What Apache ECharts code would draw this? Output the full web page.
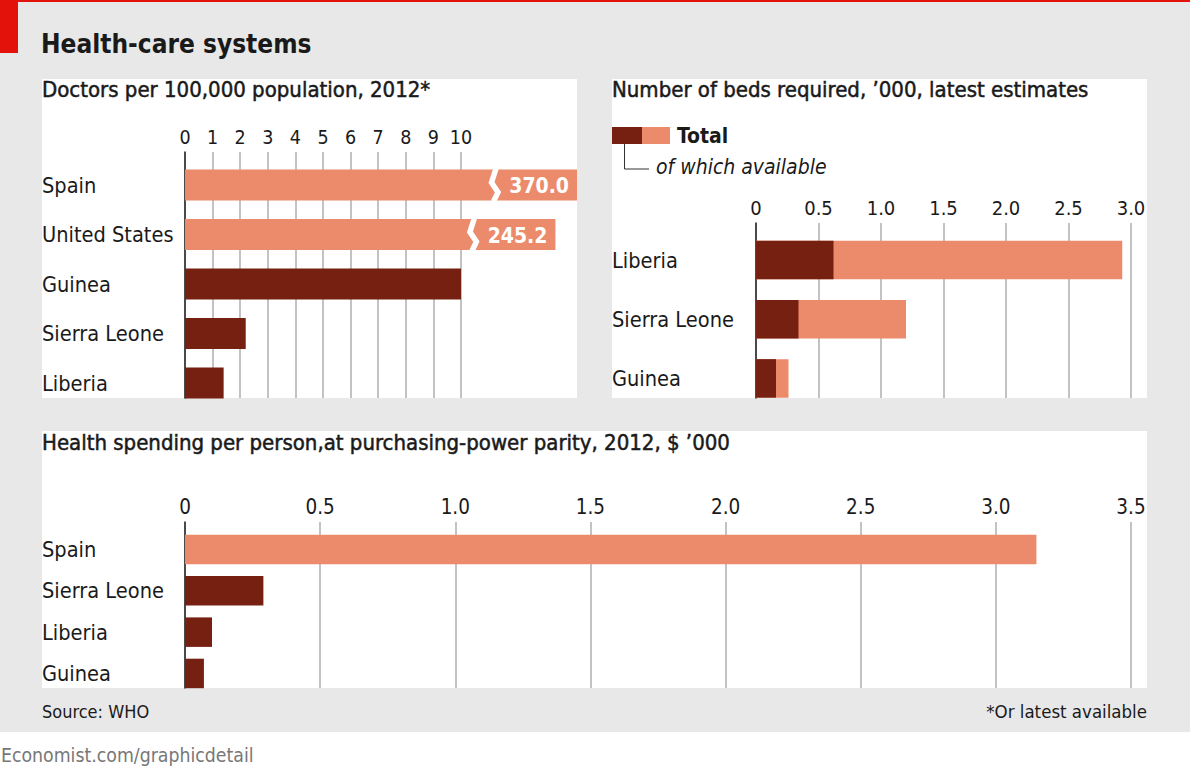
<!DOCTYPE html>
<html>
<head>
<meta charset="utf-8">
<script src="https://cdn.jsdelivr.net/npm/echarts@6/dist/echarts.min.js"></script>
<style>
html,body{margin:0;padding:0;background:#fff;}
#c{width:1190px;height:768px;}
</style>
</head>
<body>
<div id="c"></div>
<script>
// ---- data ----
const doctorCountries = ['Spain', 'United States', 'Guinea', 'Sierra Leone', 'Liberia'];
const doctorsPer100k = [370.0, 245.2, 10.0, 2.2, 1.4];
const doctorTicks = [0, 1, 2, 3, 4, 5, 6, 7, 8, 9, 10];

const bedCountries = ['Liberia', 'Sierra Leone', 'Guinea'];
const bedsTotal = [2.93, 1.20, 0.26];
const bedsAvailable = [0.62, 0.34, 0.16];
const bedTicks = [0, 0.5, 1.0, 1.5, 2.0, 2.5, 3.0];

const spendCountries = ['Spain', 'Sierra Leone', 'Liberia', 'Guinea'];
const spendPerPerson = [3.15, 0.29, 0.10, 0.07];
const spendTicks = [0, 0.5, 1.0, 1.5, 2.0, 2.5, 3.0, 3.5];

const ebolaCountries = ['Guinea', 'Sierra Leone', 'Liberia'];

// ---- styles ----
const FONT = '"DejaVu Sans Condensed", "Liberation Sans Narrow", "DejaVu Sans", sans-serif';
const LIGHT = '#ec8b6b';
const DARK = '#762011';
const TEXT = '#1a1a1a';
const GRID = '#c3c3c3';
const BG = '#e8e8e8';

const colorFor = c => ebolaCountries.indexOf(c) >= 0 ? DARK : LIGHT;
const tickFmt = v => v === 0 ? '0' : v.toFixed(1);

const chart = echarts.init(document.getElementById('c'), null, {renderer: 'svg'});

function valueXAxis(grid, ticks, fmt, showLabels, size) {
  return {
    gridIndex: grid, type: 'value', position: 'top',
    min: ticks[0], max: ticks[ticks.length - 1], interval: ticks[1] - ticks[0],
    show: showLabels,
    axisLine: {show: false}, axisTick: {show: false},
    axisLabel: {show: showLabels, margin: 5, fontSize: size || 20, fontFamily: FONT, color: TEXT, formatter: fmt},
    splitLine: {show: showLabels, lineStyle: {color: GRID, width: 2}}
  };
}
function zeroYAxis(grid) {
  return {
    gridIndex: grid, type: 'value', min: 0, max: 1,
    axisLine: {show: true, lineStyle: {color: '#222', width: 1.5}},
    axisTick: {show: false}, axisLabel: {show: false}, splitLine: {show: false}
  };
}
function catYAxis(grid, cats, margin) {
  return {
    gridIndex: grid, type: 'category', data: cats, inverse: true,
    axisLine: {show: false}, axisTick: {show: false}, splitLine: {show: false},
    axisLabel: {align: 'left', margin: margin, fontSize: 21.6, fontFamily: FONT, color: TEXT}
  };
}

function txt(text, x, y, size, opts) {
  opts = opts || {};
  const style = {
    text: text, fontSize: size, fontFamily: FONT,
    fontWeight: opts.weight || 'normal', fontStyle: opts.style || 'normal',
    fill: opts.color || TEXT, align: opts.align || 'left', verticalAlign: 'middle'
  };
  if (opts.stroke) { style.stroke = opts.color || TEXT; style.lineWidth = opts.stroke; }
  return {type: 'text', z: 20, x: x, y: y, style: style};
}

const doctorMax = doctorTicks[doctorTicks.length - 1];
const brokenMax = Math.max.apply(null, doctorsPer100k);

const option = {
  animation: false,
  backgroundColor: '#fff',
  grid: [
    {left: 185, top: 152, width: 276, height: 246},
    {left: 185, top: 160.25, width: 276, height: 247.5},
    {left: 756, top: 223, width: 375, height: 175},
    {left: 756, top: 230.4, width: 375, height: 177.6},
    {left: 185, top: 522, width: 946, height: 166},
    {left: 185, top: 528.9, width: 946, height: 165.2}
  ],
  xAxis: [
    valueXAxis(0, doctorTicks, v => String(v), true, 19.5),
    valueXAxis(1, doctorTicks, null, false),
    valueXAxis(2, bedTicks, tickFmt, true, 20),
    valueXAxis(3, bedTicks, null, false),
    valueXAxis(4, spendTicks, tickFmt, true, 20.5),
    valueXAxis(5, spendTicks, null, false)
  ],
  yAxis: [
    zeroYAxis(0),
    catYAxis(1, doctorCountries, 143),
    zeroYAxis(2),
    catYAxis(3, bedCountries, 144),
    zeroYAxis(4),
    catYAxis(5, spendCountries, 143)
  ],
  series: [
    {
      type: 'custom', xAxisIndex: 1, yAxisIndex: 1, clip: false, z: 3,
      data: doctorsPer100k.map((v, i) => [v, i]),
      encode: {x: 0, y: 1},
      renderItem: function (params, api) {
        const v = api.value(0), idx = api.value(1);
        const p0 = api.coord([0, idx]);
        const h = 31;
        const top = p0[1] - h / 2;
        const color = colorFor(doctorCountries[idx]);
        if (v <= doctorMax) {
          const p1 = api.coord([v, idx]);
          return {type: 'rect', shape: {x: p0[0], y: top, width: p1[0] - p0[0], height: h}, style: {fill: color}};
        }
        // broken bar: beyond the axis, drawn with a zig-zag break
        const pm = api.coord([doctorMax, idx]);
        const endX = pm[0] + 116 * Math.sqrt(v / brokenMax);
        const bx = endX - 81;
        return {
          type: 'group',
          children: [
            {type: 'rect', shape: {x: p0[0], y: top, width: endX - p0[0], height: h}, style: {fill: color}},
            {type: 'polyline', shape: {points: [[bx, top - 1], [bx - 4.5, top + 0.42 * h], [bx + 2, top + 0.73 * h], [bx - 2.5, top + h + 1]]},
              style: {stroke: '#fff', lineWidth: 5.5, fill: null, lineJoin: 'miter'}},
            {type: 'text', style: {text: v.toFixed(1), x: endX - 8, y: p0[1] + 1, align: 'right', verticalAlign: 'middle',
              fill: '#fff', fontSize: 21, fontWeight: 'bold', fontFamily: FONT}}
          ]
        };
      }
    },
    {
      type: 'bar', xAxisIndex: 3, yAxisIndex: 3, data: bedsTotal, barWidth: 38.5, barGap: '-100%',
      itemStyle: {color: LIGHT}, z: 3
    },
    {
      type: 'bar', xAxisIndex: 3, yAxisIndex: 3, data: bedsAvailable, barWidth: 38.5, barGap: '-100%',
      itemStyle: {color: DARK}, z: 4
    },
    {
      type: 'bar', xAxisIndex: 5, yAxisIndex: 5, barWidth: 29.5, z: 3,
      data: spendPerPerson.map((v, i) => ({value: v, itemStyle: {color: colorFor(spendCountries[i])}}))
    }
  ],
  graphic: [
    {type: 'rect', z: -10, shape: {x: 0, y: 0, width: 1190, height: 732}, style: {fill: BG}},
    {type: 'rect', z: -9, shape: {x: 0, y: 0, width: 1190, height: 2}, style: {fill: '#e3120b'}},
    {type: 'rect', z: -9, shape: {x: 0, y: 0, width: 18, height: 53}, style: {fill: '#e3120b'}},
    {type: 'rect', z: -9, shape: {x: 42, y: 79, width: 535, height: 319}, style: {fill: '#fff'}},
    {type: 'rect', z: -9, shape: {x: 612, y: 79, width: 535, height: 319}, style: {fill: '#fff'}},
    {type: 'rect', z: -9, shape: {x: 42, y: 431, width: 1105, height: 257}, style: {fill: '#fff'}},
    // legend for beds panel
    {type: 'rect', z: 10, shape: {x: 612, y: 127, width: 30, height: 17}, style: {fill: DARK}},
    {type: 'rect', z: 10, shape: {x: 642, y: 127, width: 28, height: 17}, style: {fill: LIGHT}},
    {type: 'polyline', z: 10, shape: {points: [[624.5, 144], [624.5, 169], [649, 169]]}, style: {stroke: '#333', lineWidth: 1, fill: null}},
    txt('Total', 677, 136, 21, {weight: 'bold'}),
    txt('of which available', 656, 167, 21, {style: 'italic'}),
    // titles
    txt('Health-care systems', 41, 44, 26, {weight: 'bold'}),
    txt('Doctors per 100,000 population, 2012*', 42, 89, 22, {stroke: 0.5}),
    txt('Number of beds required, \u2019000, latest estimates', 612, 89, 22, {stroke: 0.5}),
    txt('Health spending per person,at purchasing-power parity, 2012, $ \u2019000', 42, 442, 22, {stroke: 0.5}),
    txt('Source: WHO', 42, 711, 18),
    txt('*Or latest available', 1147, 711, 18.5, {align: 'right'}),
    txt('Economist.com/graphicdetail', 1, 755, 19.3, {color: '#777'})
  ]
};
chart.setOption(option);
</script>
</body>
</html>
